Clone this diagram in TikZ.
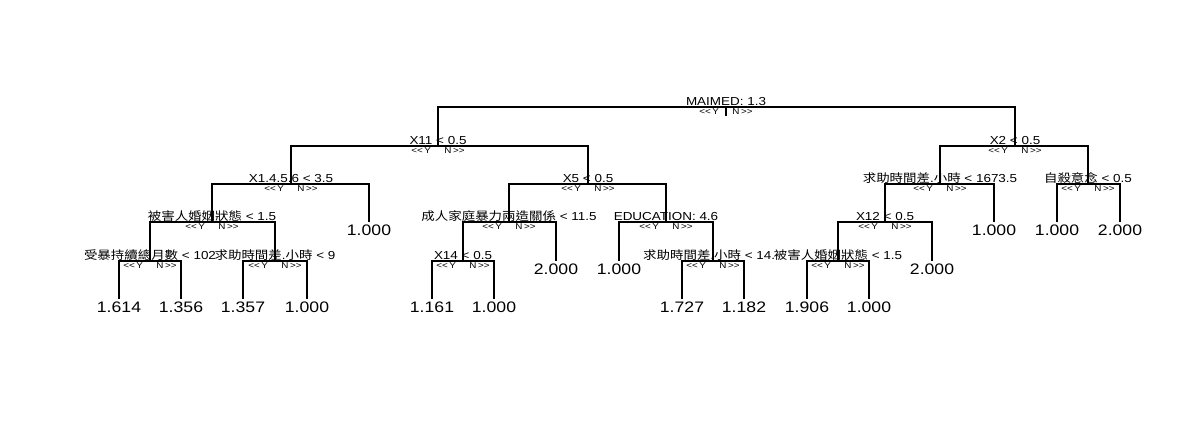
\documentclass[tikz,border=0pt]{standalone}
\usepackage{fontspec}
\usetikzlibrary{calc}
\setmainfont{Liberation Sans}[FakeStretch=1.16]
\newfontfamily\cjk{Noto Sans CJK TC}[FakeStretch=1.16]
\newcommand{\ynlab}{\makebox[11.5pt][l]{<\kern0pt<}\hspace{1.5pt}Y\hspace{13.5pt}N\hspace{1.5pt}\makebox[11.5pt][r]{>\kern0pt>}}
\begin{document}
\begin{tikzpicture}[x=1pt,y=-1pt,
  splitlab/.style={anchor=base,inner sep=0pt,font=\fontsize{11.6}{13}\selectfont},
  ynl/.style={anchor=center,inner sep=0pt,font=\fontsize{8.5}{9}\selectfont},
  leaflab/.style={anchor=north,inner sep=0pt,font=\fontsize{15.2}{17}\selectfont},
  edge/.style={line width=1.1pt,black}]
\fill[white] (0,0) rectangle (1200,427);
\useasboundingbox (0,0) rectangle (1200,427);
% split points
\coordinate (r) at (726,107);
\coordinate (rstub) at (726,116);
\coordinate (a) at (438,146);
\coordinate (b) at (1015,146);
\coordinate (c) at (291,184);
\coordinate (d) at (588,184);
\coordinate (e) at (940,184);
\coordinate (f) at (1088,184);
\coordinate (g) at (212,222);
\coordinate (h) at (509,222);
\coordinate (i) at (666,222);
\coordinate (j) at (885,222);
\coordinate (k) at (150,261);
\coordinate (m) at (275,261);
\coordinate (n) at (463,261);
\coordinate (o) at (713,261);
\coordinate (p) at (838,261);
% leaves
\coordinate (L1) at (369,222);
\coordinate (L2) at (994,222);
\coordinate (L3) at (1057,222);
\coordinate (L4) at (1120,222);
\coordinate (L5) at (556,261);
\coordinate (L6) at (619,261);
\coordinate (L7) at (932,261);
\coordinate (M1) at (119,299);
\coordinate (M2) at (181,299);
\coordinate (M3) at (243,299);
\coordinate (M4) at (307,299);
\coordinate (M5) at (432,299);
\coordinate (M6) at (494,299);
\coordinate (M7) at (682,299);
\coordinate (M8) at (744,299);
\coordinate (M9) at (807,299);
\coordinate (M10) at (869,299);
% connectors
\draw[edge] (r) -- (rstub);
\draw[edge] (r) -| (a); \draw[edge] (r) -| (b);
\draw[edge] (a) -| (c); \draw[edge] (a) -| (d);
\draw[edge] (b) -| (e); \draw[edge] (b) -| (f);
\draw[edge] (c) -| (g); \draw[edge] (c) -| (L1);
\draw[edge] (d) -| (h); \draw[edge] (d) -| (i);
\draw[edge] (e) -| (j); \draw[edge] (e) -| (L2);
\draw[edge] (f) -| (L3); \draw[edge] (f) -| (L4);
\draw[edge] (g) -| (k); \draw[edge] (g) -| (m);
\draw[edge] (h) -| (n); \draw[edge] (h) -| (L5);
\draw[edge] (i) -| (L6); \draw[edge] (i) -| (o);
\draw[edge] (j) -| (p); \draw[edge] (j) -| (L7);
\draw[edge] (k) -| (M1); \draw[edge] (k) -| (M2);
\draw[edge] (m) -| (M3); \draw[edge] (m) -| (M4);
\draw[edge] (n) -| (M5); \draw[edge] (n) -| (M6);
\draw[edge] (o) -| (M7); \draw[edge] (o) -| (M8);
\draw[edge] (p) -| (M9); \draw[edge] (p) -| (M10);
% split labels
\node[splitlab] (rl) at (726,105.5) {MAIMED: 1.3};
\node[splitlab] (al) at (438,144.5) {X11 < 0.5};
\node[splitlab] (bl) at (1015,144.5) {X2 < 0.5};
\node[splitlab] (cl) at (291,182.5) {X1.4.5.6 < 3.5};
\node[splitlab] (dl) at (588,182.5) {X5 < 0.5};
\node[splitlab] (el) at (940,182.5) {{\cjk 求助時間差}.{\cjk 小時} < 1673.5};
\node[splitlab] (fl) at (1088,182.5) {{\cjk 自殺意念} < 0.5};
\node[splitlab] (gl) at (212,220.5) {{\cjk 被害人婚姻狀態} < 1.5};
\node[splitlab] (hl) at (509,220.5) {{\cjk 成人家庭暴力兩造關係} < 11.5};
\node[splitlab] (il) at (666,220.5) {EDUCATION: 4.6};
\node[splitlab] (jl) at (885,220.5) {X12 < 0.5};
\node[splitlab] (kl) at (150,259.5) {{\cjk 受暴持續總月數} < 102};
\node[splitlab] (ml) at (275,259.5) {{\cjk 求助時間差}.{\cjk 小時} < 9};
\node[splitlab] (nl) at (463,259.5) {X14 < 0.5};
\node[splitlab,anchor=base west] (ol) at (643,259.5) {{\cjk 求助時間差}.{\cjk 小時} < 14.};
\node[splitlab] (pl) at (838,259.5) {{\cjk 被害人婚姻狀態} < 1.5};
% Y/N labels
\foreach \nm in {r,a,b,c,d,e,f,g,h,i,j,k,m,n,o,p}
  \node[ynl] (\nm yn) at ($(\nm)+(0,5)$) {\ynlab};
% leaf labels
\node[leaflab] (L1t) at ($(L1)+(0,2.5)$) {1.000};
\node[leaflab] (L2t) at ($(L2)+(0,2.5)$) {1.000};
\node[leaflab] (L3t) at ($(L3)+(0,2.5)$) {1.000};
\node[leaflab] (L4t) at ($(L4)+(0,2.5)$) {2.000};
\node[leaflab] (L5t) at ($(L5)+(0,2.5)$) {2.000};
\node[leaflab] (L6t) at ($(L6)+(0,2.5)$) {1.000};
\node[leaflab] (L7t) at ($(L7)+(0,2.5)$) {2.000};
\node[leaflab] (M1t) at ($(M1)+(0,2.5)$) {1.614};
\node[leaflab] (M2t) at ($(M2)+(0,2.5)$) {1.356};
\node[leaflab] (M3t) at ($(M3)+(0,2.5)$) {1.357};
\node[leaflab] (M4t) at ($(M4)+(0,2.5)$) {1.000};
\node[leaflab] (M5t) at ($(M5)+(0,2.5)$) {1.161};
\node[leaflab] (M6t) at ($(M6)+(0,2.5)$) {1.000};
\node[leaflab] (M7t) at ($(M7)+(0,2.5)$) {1.727};
\node[leaflab] (M8t) at ($(M8)+(0,2.5)$) {1.182};
\node[leaflab] (M9t) at ($(M9)+(0,2.5)$) {1.906};
\node[leaflab] (M10t) at ($(M10)+(0,2.5)$) {1.000};
\end{tikzpicture}
\end{document}
